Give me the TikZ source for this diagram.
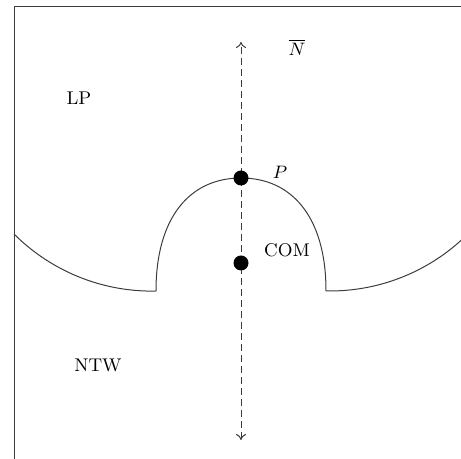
\documentclass[tikz,border=0pt]{standalone}
\usepackage{amsmath}
\usepackage{tikz}
\usetikzlibrary{arrows.meta, positioning, calc}
\definecolor{lineg}{RGB}{60,60,60}

\begin{document}
\begin{tikzpicture}[x=0.5pt, y=0.5pt,
  wall/.style={draw=lineg, line width=0.5pt},
  pnt/.style={circle, fill=black, inner sep=0pt, minimum size=7.5pt},
  lbl/.style={font=\fontsize{9.2}{11}\selectfont, inner sep=1pt},
  arr/.style={{To[length=3pt,width=5pt]}-{To[length=3pt,width=5pt]}, lineg, line width=0.5pt, dash pattern=on 3.5pt off 2pt}
]
\useasboundingbox (0,0) rectangle (461,459);
\clip (0,0) rectangle (461,459);
% frame
\draw[wall] (14,0) -- (14,452) -- (461,452);
% ground with the bump
\draw[wall] (14,225) arc[start angle=225, end angle=270, radius=97.5pt]
  -- (156,168) .. controls (156,243) and (191,281) .. (241,281)
  .. controls (291,281) and (326,243) .. (326,168)
  -- (330,168) arc[start angle=270, end angle=320, radius=97.5pt];
% normal axis
\coordinate (ntop) at (241,417);
\coordinate (nbot) at (241,19);
\draw[arr] (nbot) -- (ntop);
% points
\node[pnt] (P) at (241,281) {};
\node[pnt] (com) at (241,196) {};
% labels
\node[lbl] (nbar) at (297,412) {$\overline{N}$};
\node[lbl] (plab) at (280,287) {$P$};
\node[lbl] (comlab) at (287,209) {COM};
\node[lbl] (lp) at (79,361) {LP};
\node[lbl] (ntw) at (98,94) {NTW};
\end{tikzpicture}
\end{document}
